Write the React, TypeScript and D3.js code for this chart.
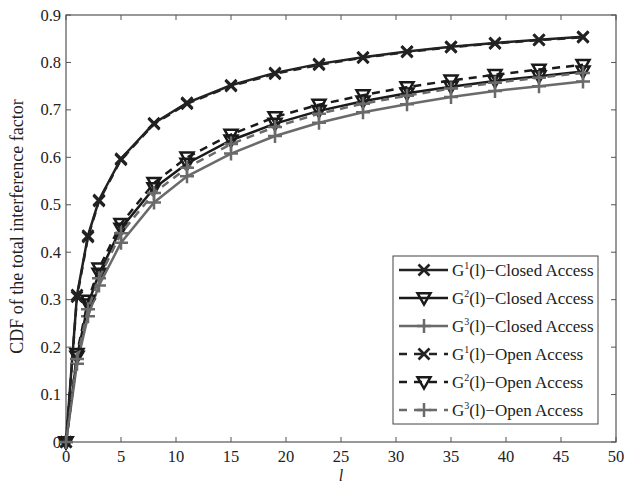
import React, { useEffect, useRef } from 'react';
import * as d3 from 'd3';

// sample points along l
const lValues = [0, 1, 2, 3, 5, 8, 11, 15, 19, 23, 27, 31, 35, 39, 43, 47];

const g1Closed = [0, 0.31, 0.435, 0.51, 0.597, 0.672, 0.715, 0.752, 0.778, 0.797, 0.811, 0.823, 0.833, 0.841, 0.848, 0.854];
const g2Closed = [0, 0.18, 0.29, 0.355, 0.45, 0.535, 0.587, 0.636, 0.671, 0.698, 0.718, 0.735, 0.749, 0.761, 0.771, 0.781];
const g3Closed = [0, 0.165, 0.265, 0.33, 0.42, 0.505, 0.56, 0.608, 0.645, 0.673, 0.695, 0.712, 0.727, 0.74, 0.75, 0.76];
const g1Open = [0, 0.306, 0.432, 0.508, 0.595, 0.67, 0.713, 0.75, 0.776, 0.795, 0.81, 0.822, 0.832, 0.84, 0.847, 0.853];
const g2Open = [0, 0.186, 0.298, 0.366, 0.46, 0.546, 0.6, 0.648, 0.685, 0.711, 0.731, 0.748, 0.762, 0.774, 0.785, 0.795];
const g3Open = [0, 0.175, 0.28, 0.345, 0.44, 0.525, 0.578, 0.628, 0.664, 0.692, 0.713, 0.73, 0.745, 0.757, 0.768, 0.778];

const xTicks = [0, 5, 10, 15, 20, 25, 30, 35, 40, 45, 50];
const yTicks = [0, 0.1, 0.2, 0.3, 0.4, 0.5, 0.6, 0.7, 0.8, 0.9];

type Marker = 'x' | 'tri' | 'plus';
interface Series {
  sup: string;
  access: string;
  values: number[];
  color: string;
  dashed: boolean;
  marker: Marker;
}

const series: Series[] = [
  { sup: '1', access: 'Closed Access', values: g1Closed, color: '#222', dashed: false, marker: 'x' },
  { sup: '2', access: 'Closed Access', values: g2Closed, color: '#1a1a1a', dashed: false, marker: 'tri' },
  { sup: '3', access: 'Closed Access', values: g3Closed, color: '#6a6a6a', dashed: false, marker: 'plus' },
  { sup: '1', access: 'Open Access', values: g1Open, color: '#222', dashed: true, marker: 'x' },
  { sup: '2', access: 'Open Access', values: g2Open, color: '#1a1a1a', dashed: true, marker: 'tri' },
  { sup: '3', access: 'Open Access', values: g3Open, color: '#6a6a6a', dashed: true, marker: 'plus' },
];

const FONT = '"Liberation Serif", "Times New Roman", serif';

function drawMarker(g: d3.Selection<SVGGElement, unknown, null, undefined>, kind: Marker, cx: number, cy: number, color: string) {
  if (kind === 'x') {
    const s = 5.5;
    g.append('path')
      .attr('d', `M${cx - s},${cy - s}L${cx + s},${cy + s}M${cx - s},${cy + s}L${cx + s},${cy - s}`)
      .attr('stroke', color).attr('stroke-width', 2.7).attr('fill', 'none');
  } else if (kind === 'tri') {
    const s = 6.5;
    g.append('path')
      .attr('d', `M${cx - s},${cy - s * 0.75}L${cx + s},${cy - s * 0.75}L${cx},${cy + s}Z`)
      .attr('stroke', color).attr('stroke-width', 2.5).attr('fill', 'none');
  } else {
    const s = 7;
    g.append('path')
      .attr('d', `M${cx - s},${cy}L${cx + s},${cy}M${cx},${cy - s}L${cx},${cy + s}`)
      .attr('stroke', color).attr('stroke-width', 2.5).attr('fill', 'none');
  }
}

const App: React.FC = () => {
  const ref = useRef<SVGSVGElement>(null);

  useEffect(() => {
    const svg = d3.select(ref.current);
    svg.selectAll('*').remove();

    const left = 66, right = 616, top = 15, bottom = 442;
    const x = d3.scaleLinear().domain([0, 50]).range([left, right]);
    const y = d3.scaleLinear().domain([0, 0.9]).range([bottom, top]);

    svg.append('rect').attr('width', 640).attr('height', 483).attr('fill', '#fff');

    const axisColor = '#555';
    // frame
    svg.append('rect')
      .attr('x', left).attr('y', top).attr('width', right - left).attr('height', bottom - top)
      .attr('fill', 'none').attr('stroke', axisColor).attr('stroke-width', 1.2);

    const tickLen = 5;
    // x ticks, inward on top and bottom
    const xt = svg.append('g');
    xTicks.forEach(t => {
      const px = x(t);
      xt.append('line').attr('x1', px).attr('x2', px).attr('y1', bottom).attr('y2', bottom - tickLen)
        .attr('stroke', axisColor);
      xt.append('line').attr('x1', px).attr('x2', px).attr('y1', top).attr('y2', top + tickLen)
        .attr('stroke', axisColor);
      xt.append('text').attr('x', px).attr('y', bottom + 20)
        .attr('text-anchor', 'middle').attr('font-family', FONT).attr('font-size', 16.5).attr('fill', '#222')
        .text(String(t));
    });

    const yt = svg.append('g');
    yTicks.forEach(t => {
      const py = y(t);
      yt.append('line').attr('x1', left).attr('x2', left + tickLen).attr('y1', py).attr('y2', py)
        .attr('stroke', axisColor);
      yt.append('line').attr('x1', right).attr('x2', right - tickLen).attr('y1', py).attr('y2', py)
        .attr('stroke', axisColor);
      yt.append('text').attr('x', left - 5).attr('y', py + 5.5)
        .attr('text-anchor', 'end').attr('font-family', FONT).attr('font-size', 16.5).attr('fill', '#222')
        .text(t === 0 ? '0' : d3.format('.1f')(t));
    });

    // axis titles
    svg.append('text').attr('x', x(25)).attr('y', 481)
      .attr('text-anchor', 'middle').attr('font-family', FONT).attr('font-style', 'italic')
      .attr('font-size', 16).attr('fill', '#222').text('l');
    svg.append('text')
      .attr('transform', `translate(23,${(top + bottom) / 2 - 2}) rotate(-90)`)
      .attr('text-anchor', 'middle').attr('font-family', FONT).attr('font-size', 18).attr('fill', '#222')
      .text('CDF of the total interference factor');

    const line = d3.line<number>()
      .x((_, i) => x(lValues[i]))
      .y(d => y(d));

    const plot = svg.append('g');
    series.forEach(s => {
      plot.append('path')
        .datum(s.values)
        .attr('d', line)
        .attr('fill', 'none')
        .attr('stroke', s.color)
        .attr('stroke-width', 2.5)
        .attr('stroke-dasharray', s.dashed ? '8,6' : null);
      const mg = plot.append('g');
      s.values.forEach((v, i) => drawMarker(mg, s.marker, x(lValues[i]), y(v), s.color));
    });

    // legend
    const lgX = 393, lgY = 256, lgW = 205, lgH = 168;
    const lg = svg.append('g');
    lg.append('rect').attr('x', lgX).attr('y', lgY).attr('width', lgW).attr('height', lgH)
      .attr('fill', '#fff').attr('stroke', '#444').attr('stroke-width', 1);
    series.forEach((s, i) => {
      const cy = lgY + 14 + i * 28;
      lg.append('line').attr('x1', lgX + 6).attr('x2', lgX + 55).attr('y1', cy).attr('y2', cy)
        .attr('stroke', s.color).attr('stroke-width', 2.5)
        .attr('stroke-dasharray', s.dashed ? '8,7' : null);
      drawMarker(lg, s.marker, lgX + 31, cy, s.color);
      const t = lg.append('text').attr('x', lgX + 59).attr('y', cy + 6)
        .attr('font-family', FONT).attr('font-size', 17).attr('fill', '#222');
      t.append('tspan').text('G');
      t.append('tspan').attr('dy', -7).attr('font-size', 10).text(s.sup);
      t.append('tspan').attr('dy', 7).text('(l)\u2212' + s.access);
    });
  }, []);

  return <svg ref={ref} width={640} height={483} style={{ display: 'block', position: 'absolute', left: 0, top: 0 }} />;
};

export default App;
